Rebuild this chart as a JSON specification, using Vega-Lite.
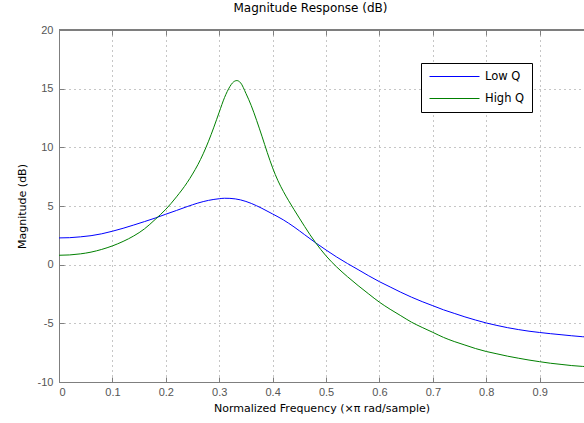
{
  "$schema": "https://vega.github.io/schema/vega-lite/v6.json",
  "width": 525,
  "height": 352,
  "autosize": {"type": "none"},
  "padding": {"left": 59, "top": 30, "right": 0, "bottom": 41},
  "background": "white",
  "title": {"text": "Magnitude Response (dB)", "fontSize": 12, "fontWeight": "normal", "font": "DejaVu Sans", "color": "black", "offset": 9, "dx": -11},
  "config": {
    "view": {"stroke": null},
    "font": "DejaVu Sans",
    "axis": {
      "domainColor": "#7f7f7f",
      "tickColor": "#7f7f7f",
      "labelColor": "#555555",
      "labelFont": "Liberation Sans",
      "labelFontSize": 11,
      "gridColor": "#8c8c8c",
      "gridDash": [1, 4],
      "gridWidth": 1,
      "titleFont": "DejaVu Sans",
      "titleFontWeight": "normal",
      "titleFontSize": 11,
      "titleColor": "black"
    }
  },
  "resolve": {"axis": {"x": "independent"}},
  "data": {
    "values": [
      {"f": 0.00, "db": 2.28, "s": "Low Q"},
      {"f": 0.02, "db": 2.30, "s": "Low Q"},
      {"f": 0.04, "db": 2.37, "s": "Low Q"},
      {"f": 0.06, "db": 2.47, "s": "Low Q"},
      {"f": 0.08, "db": 2.63, "s": "Low Q"},
      {"f": 0.10, "db": 2.85, "s": "Low Q"},
      {"f": 0.12, "db": 3.10, "s": "Low Q"},
      {"f": 0.14, "db": 3.38, "s": "Low Q"},
      {"f": 0.16, "db": 3.67, "s": "Low Q"},
      {"f": 0.18, "db": 3.97, "s": "Low Q"},
      {"f": 0.20, "db": 4.30, "s": "Low Q"},
      {"f": 0.22, "db": 4.62, "s": "Low Q"},
      {"f": 0.24, "db": 4.95, "s": "Low Q"},
      {"f": 0.26, "db": 5.25, "s": "Low Q"},
      {"f": 0.28, "db": 5.48, "s": "Low Q"},
      {"f": 0.30, "db": 5.62, "s": "Low Q"},
      {"f": 0.31, "db": 5.66, "s": "Low Q"},
      {"f": 0.32, "db": 5.65, "s": "Low Q"},
      {"f": 0.34, "db": 5.52, "s": "Low Q"},
      {"f": 0.36, "db": 5.22, "s": "Low Q"},
      {"f": 0.38, "db": 4.80, "s": "Low Q"},
      {"f": 0.40, "db": 4.32, "s": "Low Q"},
      {"f": 0.42, "db": 3.82, "s": "Low Q"},
      {"f": 0.44, "db": 3.22, "s": "Low Q"},
      {"f": 0.46, "db": 2.55, "s": "Low Q"},
      {"f": 0.48, "db": 1.88, "s": "Low Q"},
      {"f": 0.50, "db": 1.25, "s": "Low Q"},
      {"f": 0.52, "db": 0.65, "s": "Low Q"},
      {"f": 0.54, "db": 0.10, "s": "Low Q"},
      {"f": 0.56, "db": -0.42, "s": "Low Q"},
      {"f": 0.58, "db": -0.95, "s": "Low Q"},
      {"f": 0.60, "db": -1.45, "s": "Low Q"},
      {"f": 0.62, "db": -1.90, "s": "Low Q"},
      {"f": 0.64, "db": -2.35, "s": "Low Q"},
      {"f": 0.66, "db": -2.77, "s": "Low Q"},
      {"f": 0.68, "db": -3.15, "s": "Low Q"},
      {"f": 0.70, "db": -3.50, "s": "Low Q"},
      {"f": 0.72, "db": -3.85, "s": "Low Q"},
      {"f": 0.74, "db": -4.15, "s": "Low Q"},
      {"f": 0.76, "db": -4.45, "s": "Low Q"},
      {"f": 0.78, "db": -4.72, "s": "Low Q"},
      {"f": 0.80, "db": -4.97, "s": "Low Q"},
      {"f": 0.82, "db": -5.18, "s": "Low Q"},
      {"f": 0.84, "db": -5.37, "s": "Low Q"},
      {"f": 0.86, "db": -5.53, "s": "Low Q"},
      {"f": 0.88, "db": -5.67, "s": "Low Q"},
      {"f": 0.90, "db": -5.78, "s": "Low Q"},
      {"f": 0.92, "db": -5.88, "s": "Low Q"},
      {"f": 0.94, "db": -5.97, "s": "Low Q"},
      {"f": 0.96, "db": -6.06, "s": "Low Q"},
      {"f": 0.98, "db": -6.14, "s": "Low Q"},
      {"f": 1.00, "db": -6.20, "s": "Low Q"},
      {"f": 0.00, "db": 0.80, "s": "High Q"},
      {"f": 0.02, "db": 0.83, "s": "High Q"},
      {"f": 0.04, "db": 0.92, "s": "High Q"},
      {"f": 0.06, "db": 1.07, "s": "High Q"},
      {"f": 0.08, "db": 1.30, "s": "High Q"},
      {"f": 0.10, "db": 1.60, "s": "High Q"},
      {"f": 0.12, "db": 1.98, "s": "High Q"},
      {"f": 0.14, "db": 2.45, "s": "High Q"},
      {"f": 0.16, "db": 3.05, "s": "High Q"},
      {"f": 0.18, "db": 3.85, "s": "High Q"},
      {"f": 0.20, "db": 4.72, "s": "High Q"},
      {"f": 0.22, "db": 5.78, "s": "High Q"},
      {"f": 0.24, "db": 7.00, "s": "High Q"},
      {"f": 0.25, "db": 7.72, "s": "High Q"},
      {"f": 0.26, "db": 8.52, "s": "High Q"},
      {"f": 0.27, "db": 9.45, "s": "High Q"},
      {"f": 0.28, "db": 10.52, "s": "High Q"},
      {"f": 0.29, "db": 11.72, "s": "High Q"},
      {"f": 0.30, "db": 13.00, "s": "High Q"},
      {"f": 0.31, "db": 14.25, "s": "High Q"},
      {"f": 0.32, "db": 15.18, "s": "High Q"},
      {"f": 0.325, "db": 15.50, "s": "High Q"},
      {"f": 0.333, "db": 15.69, "s": "High Q"},
      {"f": 0.34, "db": 15.50, "s": "High Q"},
      {"f": 0.35, "db": 14.60, "s": "High Q"},
      {"f": 0.36, "db": 13.55, "s": "High Q"},
      {"f": 0.37, "db": 12.30, "s": "High Q"},
      {"f": 0.38, "db": 10.95, "s": "High Q"},
      {"f": 0.39, "db": 9.55, "s": "High Q"},
      {"f": 0.40, "db": 8.25, "s": "High Q"},
      {"f": 0.41, "db": 7.15, "s": "High Q"},
      {"f": 0.42, "db": 6.25, "s": "High Q"},
      {"f": 0.43, "db": 5.45, "s": "High Q"},
      {"f": 0.44, "db": 4.70, "s": "High Q"},
      {"f": 0.45, "db": 3.97, "s": "High Q"},
      {"f": 0.46, "db": 3.25, "s": "High Q"},
      {"f": 0.47, "db": 2.55, "s": "High Q"},
      {"f": 0.48, "db": 1.90, "s": "High Q"},
      {"f": 0.49, "db": 1.30, "s": "High Q"},
      {"f": 0.50, "db": 0.75, "s": "High Q"},
      {"f": 0.51, "db": 0.25, "s": "High Q"},
      {"f": 0.52, "db": -0.20, "s": "High Q"},
      {"f": 0.53, "db": -0.62, "s": "High Q"},
      {"f": 0.54, "db": -1.02, "s": "High Q"},
      {"f": 0.56, "db": -1.78, "s": "High Q"},
      {"f": 0.58, "db": -2.50, "s": "High Q"},
      {"f": 0.60, "db": -3.20, "s": "High Q"},
      {"f": 0.62, "db": -3.80, "s": "High Q"},
      {"f": 0.64, "db": -4.35, "s": "High Q"},
      {"f": 0.66, "db": -4.90, "s": "High Q"},
      {"f": 0.68, "db": -5.35, "s": "High Q"},
      {"f": 0.70, "db": -5.77, "s": "High Q"},
      {"f": 0.72, "db": -6.20, "s": "High Q"},
      {"f": 0.74, "db": -6.55, "s": "High Q"},
      {"f": 0.76, "db": -6.85, "s": "High Q"},
      {"f": 0.78, "db": -7.15, "s": "High Q"},
      {"f": 0.80, "db": -7.40, "s": "High Q"},
      {"f": 0.82, "db": -7.60, "s": "High Q"},
      {"f": 0.84, "db": -7.80, "s": "High Q"},
      {"f": 0.86, "db": -7.97, "s": "High Q"},
      {"f": 0.88, "db": -8.13, "s": "High Q"},
      {"f": 0.90, "db": -8.27, "s": "High Q"},
      {"f": 0.92, "db": -8.40, "s": "High Q"},
      {"f": 0.94, "db": -8.50, "s": "High Q"},
      {"f": 0.96, "db": -8.60, "s": "High Q"},
      {"f": 0.98, "db": -8.67, "s": "High Q"},
      {"f": 1.00, "db": -8.72, "s": "High Q"}
    ]
  },
  "layer": [
    {
      "mark": {"type": "line", "strokeWidth": 1, "clip": true, "interpolate": "monotone"},
      "encoding": {
        "x": {
          "field": "f", "type": "quantitative",
          "scale": {"domain": [0, 0.983], "nice": false, "zero": false},
          "axis": {
            "title": "Normalized Frequency (×π rad/sample)",
            "values": [0, 0.1, 0.2, 0.3, 0.4, 0.5, 0.6, 0.7, 0.8, 0.9],
            "labelExpr": "'' + datum.value",
            "tickSize": -5,
            "labelPadding": 9,
            "titlePadding": 5,
            "grid": true
          }
        },
        "y": {
          "field": "db", "type": "quantitative",
          "scale": {"domain": [-10, 20], "nice": false, "zero": false},
          "axis": {
            "title": "Magnitude (dB)",
            "values": [-10, -5, 0, 5, 10, 15, 20],
            "labelExpr": "'' + datum.value",
            "tickSize": -5,
            "labelPadding": 11,
            "titlePadding": 10,
            "grid": true
          }
        },
        "color": {
          "field": "s", "type": "nominal",
          "scale": {"domain": ["Low Q", "High Q"], "range": ["#0000ff", "#008000"]},
          "legend": {
            "title": null,
            "orient": "none",
            "legendX": 362,
            "legendY": 33,
            "symbolType": "stroke",
            "symbolSize": 2500,
            "symbolStrokeWidth": 1,
            "symbolOffset": 1,
            "clipHeight": 13,
            "labelFont": "DejaVu Sans",
            "labelFontSize": 11.5,
            "labelColor": "black",
            "labelOffset": 5,
            "strokeColor": "black",
            "fillColor": "white",
            "padding": 7,
            "rowPadding": 9
          }
        }
      }
    },
    {
      "mark": {"type": "rule", "color": "#7f7f7f", "strokeWidth": 1},
      "encoding": {
        "x": {
          "datum": 0, "type": "quantitative",
          "axis": {
            "orient": "top",
            "values": [0, 0.1, 0.2, 0.3, 0.4, 0.5, 0.6, 0.7, 0.8, 0.9],
            "labels": false,
            "title": null,
            "grid": false,
            "domain": false,
            "tickSize": -5
          }
        },
        "x2": {"datum": 0.983},
        "y": {"datum": 20}
      }
    }
  ]
}
